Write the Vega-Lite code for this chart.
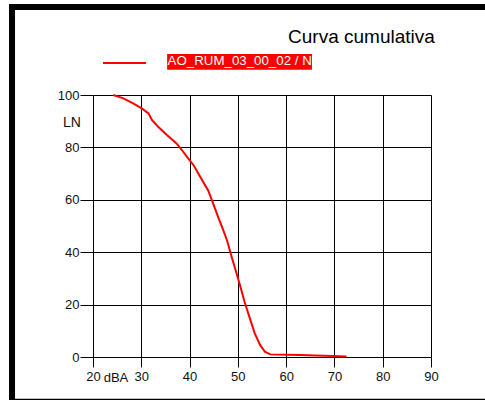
{
  "$schema": "https://vega.github.io/schema/vega-lite/v6.json",
  "autosize": {"type": "none"},
  "width": 338,
  "height": 262,
  "padding": {"left": 93, "top": 95, "right": 54, "bottom": 43},
  "background": "white",
  "config": {
    "view": {"stroke": null},
    "font": "Liberation Sans",
    "axis": {
      "labelFont": "Liberation Sans",
      "labelFontSize": 13,
      "labelColor": "#111",
      "labelFlush": false,
      "labelOverlap": false,
      "gridColor": "#000",
      "gridOpacity": 1,
      "gridWidth": 1,
      "tickColor": "#000",
      "tickWidth": 1,
      "domain": false
    }
  },
  "layer": [
    {
      "data": {
        "values": [
          {"dBA": 24.2, "LN": 100},
          {"dBA": 26.3, "LN": 98.7},
          {"dBA": 28.3, "LN": 96.8},
          {"dBA": 30.1, "LN": 94.9},
          {"dBA": 31.5, "LN": 93.0},
          {"dBA": 32.2, "LN": 90.5},
          {"dBA": 33.5, "LN": 87.9},
          {"dBA": 35.3, "LN": 84.7},
          {"dBA": 37.3, "LN": 81.5},
          {"dBA": 38.4, "LN": 79.0},
          {"dBA": 39.7, "LN": 75.8},
          {"dBA": 40.8, "LN": 73.3},
          {"dBA": 42.2, "LN": 68.8},
          {"dBA": 43.9, "LN": 63.4},
          {"dBA": 45.2, "LN": 57.0},
          {"dBA": 46.0, "LN": 53.0},
          {"dBA": 46.8, "LN": 49.3},
          {"dBA": 47.8, "LN": 44.3},
          {"dBA": 48.7, "LN": 38.3},
          {"dBA": 49.8, "LN": 31.5},
          {"dBA": 50.5, "LN": 27.0},
          {"dBA": 51.4, "LN": 21.0},
          {"dBA": 52.4, "LN": 15.2},
          {"dBA": 53.5, "LN": 9.0},
          {"dBA": 54.6, "LN": 4.6},
          {"dBA": 55.6, "LN": 2.0},
          {"dBA": 56.7, "LN": 1.0},
          {"dBA": 60.0, "LN": 0.85},
          {"dBA": 62.9, "LN": 0.75},
          {"dBA": 66.0, "LN": 0.55},
          {"dBA": 69.7, "LN": 0.35},
          {"dBA": 72.5, "LN": 0.15}
        ]
      },
      "mark": {"type": "line", "color": "#ff0000", "strokeWidth": 2},
      "encoding": {
        "x": {
          "field": "dBA",
          "type": "quantitative",
          "scale": {"domain": [20, 90], "nice": false, "zero": false},
          "axis": {
            "title": null,
            "values": [20, 30, 40, 50, 60, 70, 80, 90],
            "tickSize": 10,
            "labelPadding": 3,
            "grid": true
          }
        },
        "y": {
          "field": "LN",
          "type": "quantitative",
          "scale": {"domain": [0, 100], "nice": false, "zero": false},
          "axis": {
            "title": null,
            "values": [0, 20, 40, 60, 80, 100],
            "tickSize": 13,
            "labelPadding": 1,
            "grid": true
          }
        }
      }
    },
    {
      "data": {"values": [{}]},
      "mark": {"type": "rule", "color": "#000", "strokeWidth": 6, "strokeCap": "butt"},
      "encoding": {
        "x": {"datum": 3.23, "type": "quantitative"},
        "y": {"datum": 134.7, "type": "quantitative"},
        "y2": {"datum": -16.6}
      }
    },
    {
      "data": {"values": [{}]},
      "mark": {"type": "rule", "color": "#000", "strokeWidth": 6, "strokeCap": "butt"},
      "encoding": {
        "x": {"datum": 2.6, "type": "quantitative"},
        "x2": {"datum": 101.5},
        "y": {"datum": 133.6, "type": "quantitative"}
      }
    },
    {
      "data": {"values": [{}]},
      "mark": {"type": "rule", "color": "#000", "strokeWidth": 1.5, "strokeCap": "butt"},
      "encoding": {
        "x": {"datum": 3.23, "type": "quantitative"},
        "x2": {"datum": 101.5},
        "y": {"datum": -16.2, "type": "quantitative"}
      }
    },
    {
      "data": {"values": [{}]},
      "mark": {"type": "text", "text": "Curva cumulativa", "fontSize": 19, "align": "right", "baseline": "alphabetic", "color": "#000"},
      "encoding": {
        "x": {"datum": 90.8, "type": "quantitative"},
        "y": {"datum": 119.85, "type": "quantitative"}
      }
    },
    {
      "data": {"values": [{}]},
      "mark": {"type": "rule", "color": "#ff0000", "strokeWidth": 2, "strokeCap": "butt"},
      "encoding": {
        "x": {"datum": 22.07, "type": "quantitative"},
        "x2": {"datum": 30.98},
        "y": {"datum": 112.2, "type": "quantitative"}
      }
    },
    {
      "data": {"values": [{}]},
      "mark": {"type": "rect", "color": "#ff0000"},
      "encoding": {
        "x": {"datum": 35.35, "type": "quantitative"},
        "x2": {"datum": 65.35},
        "y": {"datum": 115.65, "type": "quantitative"},
        "y2": {"datum": 109.6}
      }
    },
    {
      "data": {"values": [{}]},
      "mark": {"type": "text", "text": "AO_RUM_03_00_02 / N", "fontSize": 13.3, "align": "left", "baseline": "alphabetic", "color": "#fff"},
      "encoding": {
        "x": {"datum": 35.45, "type": "quantitative"},
        "y": {"datum": 111.45, "type": "quantitative"}
      }
    },
    {
      "data": {"values": [{}]},
      "mark": {"type": "text", "text": "LN", "fontSize": 14, "align": "center", "baseline": "alphabetic", "color": "#111"},
      "encoding": {
        "x": {"datum": 15.65, "type": "quantitative"},
        "y": {"datum": 87.8, "type": "quantitative"}
      }
    },
    {
      "data": {"values": [{}]},
      "mark": {"type": "text", "text": "dBA", "fontSize": 13, "align": "center", "baseline": "alphabetic", "color": "#111"},
      "encoding": {
        "x": {"datum": 24.76, "type": "quantitative"},
        "y": {"datum": -9.6, "type": "quantitative"}
      }
    }
  ]
}
